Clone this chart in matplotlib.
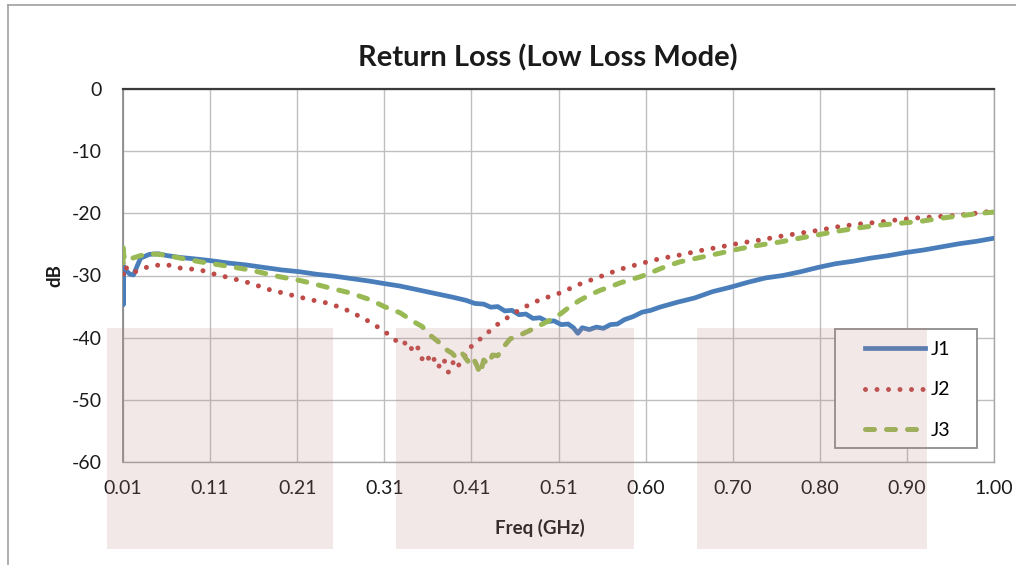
import numpy as np
import matplotlib
matplotlib.use("Agg")
import matplotlib.pyplot as plt
from matplotlib.patches import Rectangle
from matplotlib.lines import Line2D

plt.rcParams['font.family'] = ['Lato', 'DejaVu Sans']
plt.rcParams['axes.unicode_minus'] = False

# values, frequency in GHz, return loss in dB
freq_j1 = [0.010, 0.0104, 0.0108, 0.014, 0.018, 0.022, 0.026, 0.030, 0.040, 0.050,
	0.060, 0.075, 0.090, 0.109, 0.130, 0.150, 0.170, 0.190, 0.211, 0.230,
	0.250, 0.270, 0.290, 0.307, 0.325, 0.345, 0.365, 0.385, 0.400, 0.410,
	0.420, 0.428, 0.436, 0.444, 0.452, 0.460, 0.468, 0.476, 0.484, 0.492,
	0.500, 0.508, 0.516, 0.522, 0.527, 0.532, 0.540, 0.548, 0.556, 0.564,
	0.572, 0.580, 0.590, 0.600, 0.610, 0.620, 0.640, 0.660, 0.680, 0.700,
	0.720, 0.740, 0.760, 0.780, 0.800, 0.820, 0.840, 0.860, 0.880, 0.900,
	0.920, 0.940, 0.960, 0.980, 1.000]
db_j1 = [-29.0, -34.7, -28.5, -29.3, -29.8, -29.9, -28.5, -27.2, -26.6, -26.5,
	-26.8, -27.1, -27.3, -27.6, -28.0, -28.3, -28.7, -29.1, -29.4, -29.8,
	-30.1, -30.5, -30.9, -31.3, -31.7, -32.3, -32.9, -33.5, -34.0, -34.5,
	-34.6, -35.1, -35.0, -35.7, -35.6, -36.3, -36.2, -36.9, -36.8, -37.4,
	-37.3, -37.9, -37.8, -38.4, -39.3, -38.4, -38.7, -38.3, -38.5, -37.9,
	-37.8, -37.1, -36.6, -35.9, -35.6, -35.1, -34.3, -33.6, -32.6, -31.9,
	-31.1, -30.4, -30.0, -29.4, -28.7, -28.1, -27.7, -27.2, -26.8, -26.3,
	-25.9, -25.4, -24.9, -24.5, -24.0]

freq_j2 = [0.010, 0.0104, 0.012, 0.016, 0.021, 0.030, 0.041, 0.058, 0.075, 0.098,
	0.109, 0.132, 0.154, 0.177, 0.200, 0.223, 0.245, 0.265, 0.285, 0.302,
	0.315, 0.326, 0.334, 0.340, 0.345, 0.350, 0.355, 0.360, 0.365, 0.370,
	0.375, 0.380, 0.385, 0.390, 0.395, 0.400, 0.406, 0.413, 0.420, 0.428,
	0.438, 0.450, 0.461, 0.473, 0.484, 0.507, 0.529, 0.552, 0.575, 0.598,
	0.620, 0.643, 0.666, 0.689, 0.711, 0.734, 0.757, 0.779, 0.802, 0.825,
	0.848, 0.870, 0.893, 0.916, 0.939, 0.961, 0.984, 1.000]
db_j2 = [-28.0, -29.8, -28.4, -29.2, -29.6, -29.0, -28.5, -28.2, -28.8, -29.1,
	-29.6, -30.4, -31.2, -32.3, -33.1, -33.9, -34.5, -35.6, -37.0, -38.5,
	-39.8, -41.2, -40.6, -42.4, -41.6, -43.4, -42.6, -44.2, -43.2, -44.8,
	-43.6, -45.6, -44.0, -45.0, -43.2, -42.8, -41.4, -40.6, -39.7, -38.8,
	-37.6, -36.5, -35.5, -34.6, -33.9, -32.8, -31.4, -30.2, -29.0, -28.1,
	-27.3, -26.7, -26.0, -25.4, -24.8, -24.3, -23.7, -23.2, -22.7, -22.1,
	-21.7, -21.4, -21.0, -20.7, -20.5, -20.3, -19.9, -19.6]

freq_j3 = [0.010, 0.0103, 0.0107, 0.012, 0.016, 0.021, 0.030, 0.041, 0.058, 0.075,
	0.098, 0.120, 0.154, 0.188, 0.211, 0.223, 0.245, 0.268, 0.291, 0.307,
	0.325, 0.340, 0.350, 0.359, 0.368, 0.376, 0.384, 0.390, 0.396, 0.402,
	0.407, 0.412, 0.416, 0.420, 0.425, 0.430, 0.436, 0.442, 0.450, 0.461,
	0.473, 0.484, 0.495, 0.507, 0.518, 0.529, 0.541, 0.552, 0.564, 0.575,
	0.586, 0.598, 0.609, 0.626, 0.643, 0.666, 0.689, 0.711, 0.734, 0.757,
	0.779, 0.802, 0.825, 0.848, 0.870, 0.893, 0.916, 0.939, 0.961, 0.984,
	1.000]
db_j3 = [-28.0, -25.1, -26.6, -27.5, -27.6, -27.2, -26.8, -26.5, -26.7, -27.2,
	-27.8, -28.3, -29.1, -30.2, -30.8, -31.2, -32.0, -32.8, -33.9, -35.0,
	-36.0, -37.4, -38.2, -39.6, -40.6, -41.8, -42.5, -43.4, -42.6, -43.8,
	-43.0, -44.4, -45.8, -43.6, -44.3, -42.8, -42.9, -41.6, -40.2, -39.6,
	-38.8, -38.0, -37.2, -36.2, -35.0, -34.0, -33.1, -32.4, -31.8, -31.2,
	-30.7, -30.2, -29.6, -28.6, -27.8, -27.1, -26.4, -25.7, -25.1, -24.6,
	-24.0, -23.4, -22.8, -22.3, -21.9, -21.6, -21.3, -20.8, -20.4, -20.0,
	-19.8]

series_labels = ["J1", "J2", "J3"]
x_ticks = np.linspace(0.01, 1.00, 11)
x_tick_labels = ["0.01", "0.11", "0.21", "0.31", "0.41", "0.51", "0.60", "0.70", "0.80", "0.90", "1.00"]
y_ticks = [0, -10, -20, -30, -40, -50, -60]

W, H = 1016, 565
fig = plt.figure(figsize=(W/100, H/100), dpi=100, facecolor='white')
ax = fig.add_axes([123/W, 1-462/H, 871/W, 373/H])

ax.plot(freq_j1, db_j1, color='#4a7ebb', lw=3.4, solid_joinstyle='round', label=series_labels[0], zorder=3)
ax.plot(freq_j2, db_j2, color='#be4b48', lw=3.6, linestyle=(0, (0.001, 2.3)),
	dash_capstyle='round', label=series_labels[1], zorder=3)
ax.plot(freq_j3, db_j3, color='#98b954', lw=3.6, linestyle=(0, (1.8, 2.4)),
	dash_capstyle='round', label=series_labels[2], zorder=3)

ax.set_xlim(0.01, 1.00)
ax.set_ylim(-60, 0)
ax.set_xticks(x_ticks)
ax.set_xticklabels(x_tick_labels)
ax.set_yticks(y_ticks)
ax.tick_params(axis='both', length=0, labelsize=14, colors='#1a1a1a')
ax.tick_params(axis='x', pad=13)
ax.tick_params(axis='y', pad=15)
ax.grid(True, color='#bfbfbf', lw=1.0)
ax.set_axisbelow(True)

for side in ['bottom', 'right']:
	ax.spines[side].set_color('#a6a6a6')
	ax.spines[side].set_linewidth(1.0)
ax.spines['left'].set_color('#8c8c8c')
ax.spines['left'].set_linewidth(1.3)
ax.spines['top'].set_color('#3a3a3a')
ax.spines['top'].set_linewidth(1.6)

ax.set_xlabel('Freq (GHz)', fontsize=13.5, fontweight='bold', color='#1a1a1a')
ax.xaxis.set_label_coords(0.479, -0.178)
ax.xaxis.label.set_va('center')
ax.set_ylabel('dB', fontsize=13.5, fontweight='bold', color='#1a1a1a')
ax.yaxis.set_label_coords(-0.078, 0.5)
ax.yaxis.label.set_va('center')

fig.text(548/W, 1-58/H, 'Return Loss (Low Loss Mode)', ha='center', va='center',
	fontsize=21, fontweight='bold', color='#1a1a1a')

# legend box drawn separately so the padding matches
ax.add_patch(Rectangle((835/W, 1-448/H), 142/W, 119/H, transform=fig.transFigure,
	facecolor='white', edgecolor='#8c8c8c', lw=1.3, clip_on=False, zorder=4.8))
leg = ax.legend(loc='upper left', bbox_to_anchor=(865/W, 1-341/H), bbox_transform=fig.transFigure,
	frameon=False, borderpad=0, borderaxespad=0, handlelength=3.1, handletextpad=0.3,
	labelspacing=1.2, fontsize=14)
leg.set_zorder(5)

# pale pink blocks laid over the chart
for x0, x1 in [(107, 333), (396, 634), (697, 927)]:
	ax.add_patch(Rectangle((x0/W, 1-549/H), (x1-x0)/W, (549-328)/H, transform=fig.transFigure,
		facecolor=(0.75, 0.5, 0.5), alpha=0.18, lw=0, clip_on=False, zorder=10))

# outer chart border
fig.add_artist(Line2D([8/W, 1], [1-5/H, 1-5/H], color='#a0a0a0', lw=1.2))
fig.add_artist(Line2D([8/W, 8/W], [0, 1-5/H], color='#a0a0a0', lw=1.2))

fig.savefig('out.png', dpi=100, facecolor='white')
